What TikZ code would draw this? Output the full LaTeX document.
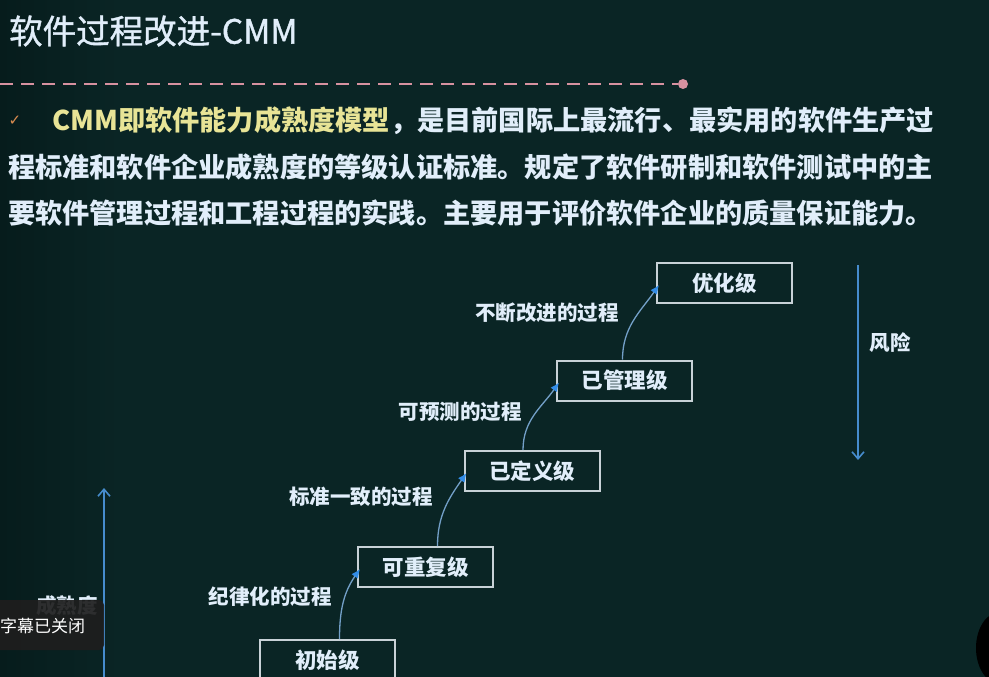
\documentclass[tikz,border=0pt]{standalone}
\usepackage{fontspec}
\newfontfamily\cjk{Noto Sans CJK SC}
\newfontfamily\cjkmed[FakeBold=1.2]{Noto Sans CJK SC}
\newfontfamily\dejavu{DejaVu Sans}
\usetikzlibrary{arrows.meta,calc}
\definecolor{bg}{RGB}{10,37,37}
\definecolor{bgdark}{RGB}{6,28,28}
\definecolor{txt}{RGB}{225,238,250}
\definecolor{yel}{RGB}{232,228,150}
\definecolor{pinkd}{RGB}{215,145,160}
\definecolor{boxline}{RGB}{200,210,215}
\definecolor{arr}{RGB}{115,160,200}
\definecolor{tipblue}{RGB}{50,140,230}
\definecolor{axis}{RGB}{70,140,205}
\definecolor{chk}{RGB}{217,140,80}
\definecolor{ovl}{RGB}{30,30,30}
\begin{document}
\begin{tikzpicture}[x=1pt,y=1pt,
  level/.style={draw=boxline, line width=2pt, fill=bg, minimum width=135pt, minimum height=40pt, inner sep=0pt, text=txt, font=\cjk\bfseries\fontsize{21.5}{22}\selectfont},
  proc/.style={text=txt, inner sep=0pt, font=\cjk\bfseries\fontsize{20.5}{21}\selectfont},
  para/.style={anchor=west, inner sep=0pt, text=txt, font=\cjk\bfseries\fontsize{27.2}{28}\selectfont},
  stepline/.style={draw=arr, line width=1.3pt, -{Latex[length=9pt,width=8pt,color=tipblue]}},
  axisline/.style={draw=axis, line width=1.6pt, -{Straight Barb[length=7pt,width=12pt]}}]
\useasboundingbox (0,0) rectangle (989,-677);
\shade[left color=bgdark, right color=bg] (0,0) rectangle (120,-677);
\fill[bg] (120,0) rectangle (989,-677);

% title
\node[anchor=west, inner sep=0pt, text=txt, font=\cjkmed\fontsize{33.5}{34}\selectfont] (title) at (9,-31) {软件过程改进-CMM};
\node[circle, fill=pinkd, minimum size=10pt, inner sep=0pt] (dot) at (683,-84) {};
\draw[pinkd, line width=2.5pt, dash pattern=on 13pt off 8pt] (0,-84) -- (dot);

% paragraph
\node[anchor=center, inner sep=0pt, text=chk, font=\dejavu\fontsize{15}{15}\selectfont] (chk) at (15,-121) {✓};
\node[para] (p1) at (52,-121) {{\color{yel}CMM即软件能力成熟度模型}，是目前国际上最流行、最实用的软件生产过};
\node[para] (p2) at (8,-167) {程标准和软件企业成熟度的等级认证标准。规定了软件研制和软件测试中的主};
\node[para] (p3) at (8,-213) {要软件管理过程和工程过程的实践。主要用于评价软件企业的质量保证能力。};

% levels
\node[level] (l5) at (724.5,-283) {优化级};
\node[level] (l4) at (624.5,-380.5) {已管理级};
\node[level] (l3) at (532,-471) {已定义级};
\node[level] (l2) at (425.5,-567) {可重复级};
\node[level] (l1) at (327.5,-660) {初始级};

% step arrows
\draw[stepline] ($(l1.north)+(12,0)$) to[out=90, in=235] ($(l2.west)+(3,-2)$);
\draw[stepline] ($(l2.north)+(12,0)$) to[out=90, in=235] ($(l3.west)+(3,-2)$);
\draw[stepline] ($(l3.north)+(-9,0)$) to[out=90, in=235] ($(l4.west)+(3,-2)$);
\draw[stepline] ($(l4.north)+(-2,0)$) to[out=90, in=235] ($(l5.west)+(3,-2)$);

% process labels
\node[proc] (t1) at (270,-597) {纪律化的过程};
\node[proc] (t2) at (361,-497) {标准一致的过程};
\node[proc] (t3) at (460,-412) {可预测的过程};
\node[proc] (t4) at (547,-313) {不断改进的过程};

% axes
\coordinate (rt) at (858,-265);
\coordinate (rb) at (858,-460);
\draw[axisline] (rt) -- (rb);
\node[proc] (risk) at (890,-343) {风险};
\coordinate (lb) at (104,-680);
\coordinate (lt) at (104,-488);
\draw[axisline] (lb) -- (lt);
\node[proc] (mat) at (67,-606) {成熟度};

% overlay
\node[fill=ovl, fill opacity=0.92, rounded corners=5pt, minimum width=112pt, minimum height=50pt, inner sep=0pt] (ovbox) at (48,-625) {};
\node[anchor=west, inner sep=0pt, text=white, font=\cjk\fontsize{17}{17}\selectfont] (ovtxt) at (0,-626) {字幕已关闭};
\fill[black] (1000,-648) ellipse (24 and 36);
\end{tikzpicture}
\end{document}
